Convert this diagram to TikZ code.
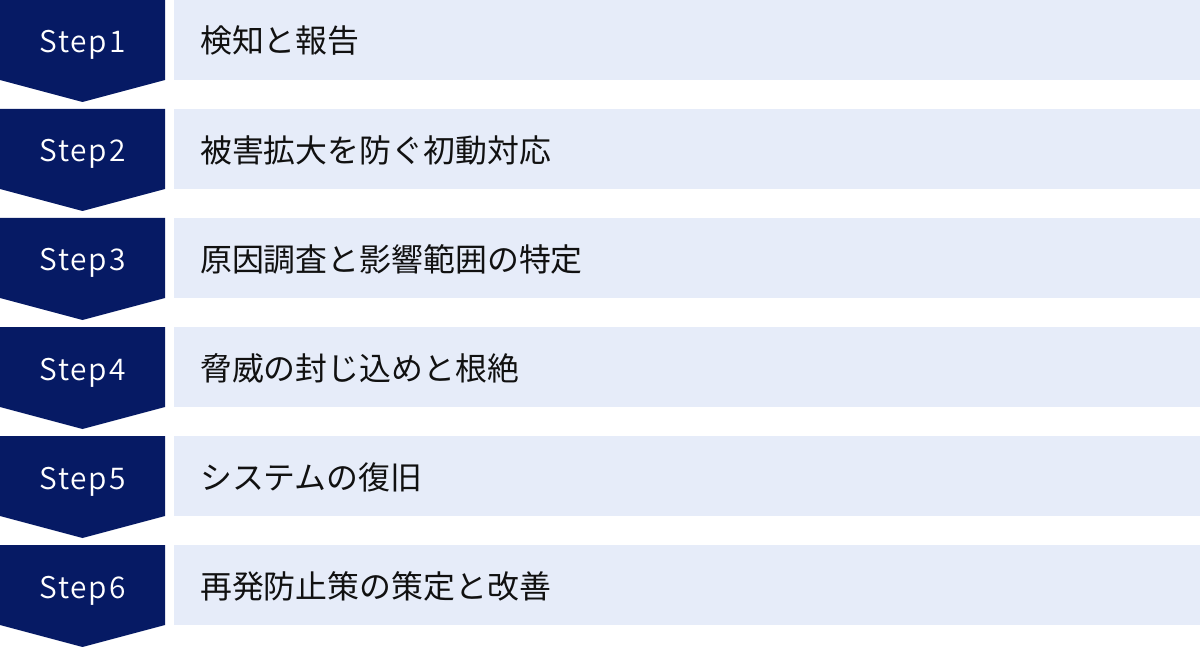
\documentclass[tikz,border=0pt]{standalone}
\usepackage{fontspec}
\setmainfont{Noto Sans CJK JP}
\newfontfamily\stepfont[LetterSpace=6]{Noto Sans CJK JP DemiLight}
\definecolor{navy}{HTML}{061A64}
\definecolor{pale}{HTML}{E6ECF9}
\definecolor{ink}{HTML}{111111}
\tikzset{
  chev/.style={fill=navy, draw=none},
  band/.style={fill=pale, draw=none},
  steplabel/.style={text=white, font=\stepfont\fontsize{30}{30}\selectfont, anchor=base, inner sep=0pt},
  tasklabel/.style={text=ink, font=\fontsize{32}{32}\selectfont, anchor=west, inner sep=0pt}
}
\begin{document}
\begin{tikzpicture}[x=1bp,y=-1bp]
\useasboundingbox (0,0) rectangle (1200,647);
\foreach \i/\t in {1/検知と報告,2/被害拡大を防ぐ初動対応,3/原因調査と影響範囲の特定,4/脅威の封じ込めと根絶,5/システムの復旧,6/再発防止策の策定と改善}{
  \pgfmathsetmacro{\y}{(\i-1)*109}
  \fill[chev] (0,\y) -- (165,\y) -- (165,\y+80) -- (82.5,\y+102) -- (0,\y+80) -- cycle;
  \fill[band] (174,\y) rectangle (1200,\y+80);
  \node[steplabel] (s\i) at (82.5,\y+53) {Step\i};
  \node[tasklabel] (t\i) at (200,\y+41) {\t};
}
\end{tikzpicture}
\end{document}
